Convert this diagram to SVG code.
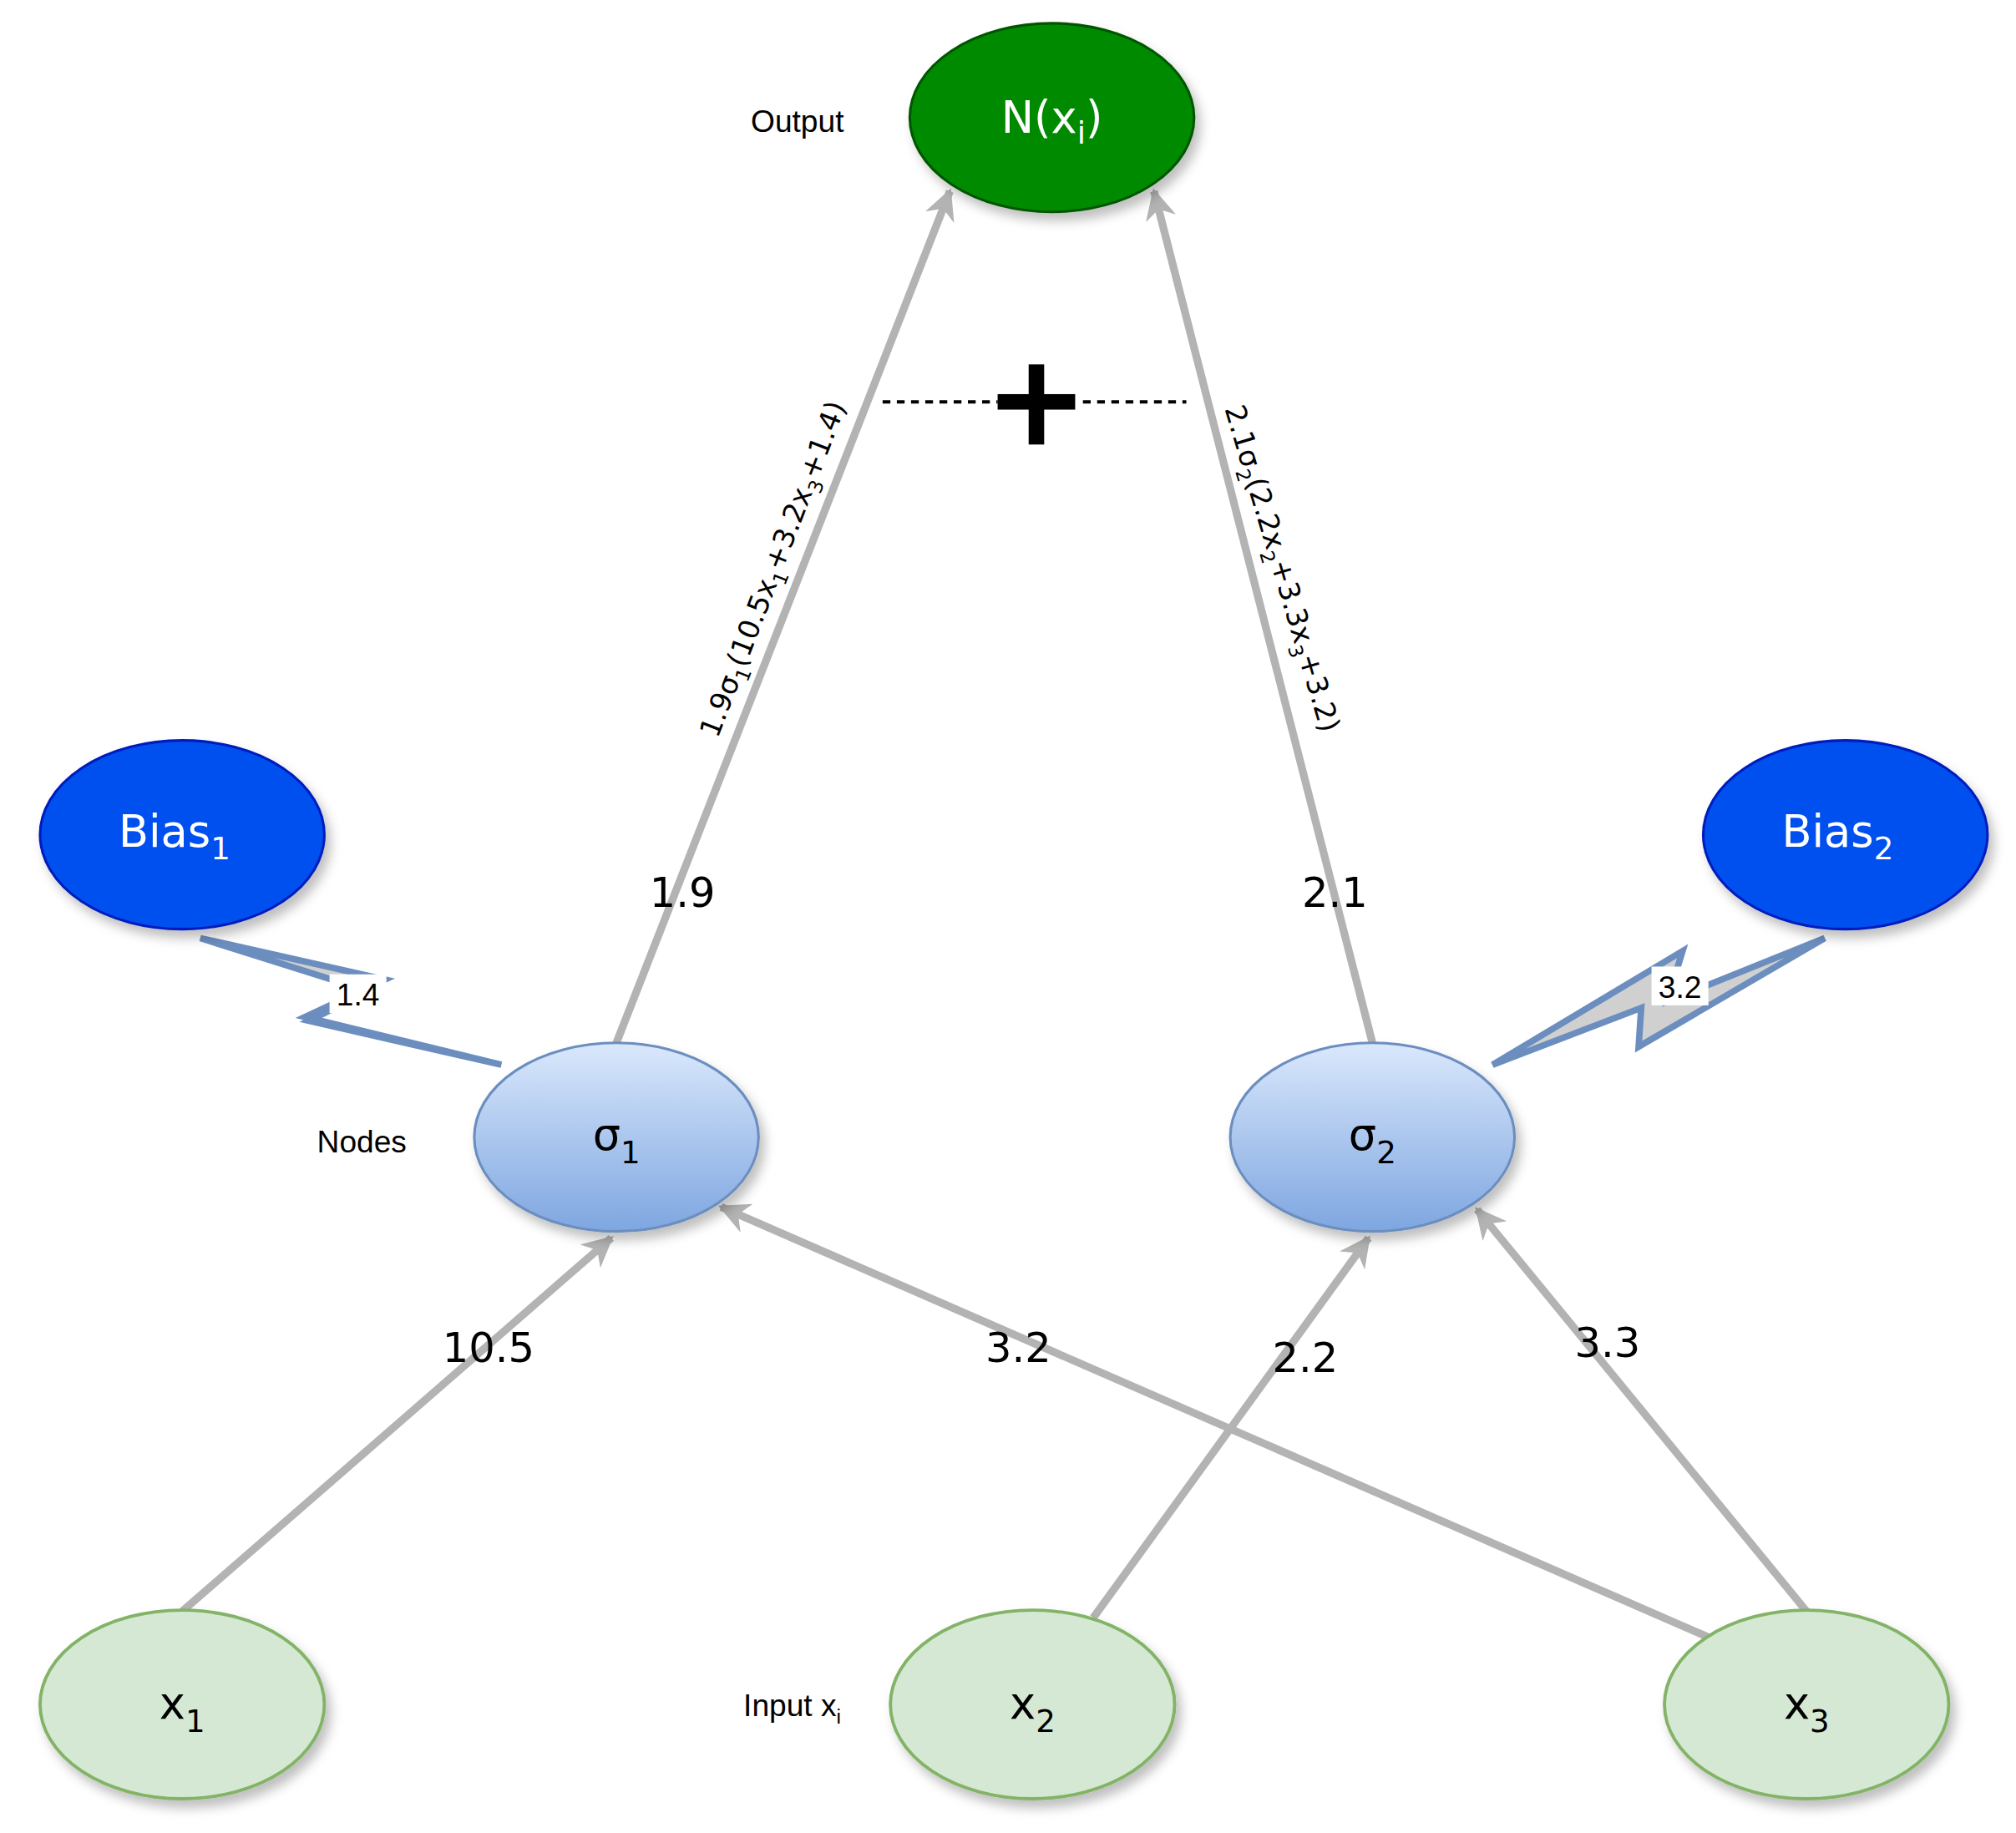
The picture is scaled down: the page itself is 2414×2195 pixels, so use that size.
<svg xmlns="http://www.w3.org/2000/svg" width="2414" height="2195" viewBox="0 0 2414 2195">
<style>
.lbl{font-family:"DejaVu Sans",Verdana,sans-serif;font-size:32px;fill:#000;text-anchor:middle}
.side{font-family:"Liberation Sans",Arial,sans-serif;font-size:24px;fill:#000;text-anchor:middle}
.nt{font-family:"DejaVu Sans",Verdana,sans-serif;font-size:34px;text-anchor:middle}
.edge{stroke:#b3b3b3;stroke-width:6;fill:none}
.rot{font-family:"DejaVu Sans",Verdana,sans-serif;font-size:22px;text-anchor:middle}
</style>
<defs>
<linearGradient id="g" x1="0" y1="0" x2="0" y2="1"><stop offset="0" stop-color="#dae8fc"/><stop offset="1" stop-color="#7ea6e0"/></linearGradient>
<filter id="sh" x="-20%" y="-20%" width="150%" height="150%"><feDropShadow dx="4" dy="6" stdDeviation="4" flood-color="#000" flood-opacity="0.25"/></filter>
<marker id="ar" viewBox="0 0 10 10" refX="9" refY="5" markerWidth="4" markerHeight="4" markerUnits="strokeWidth" orient="auto"><path d="M0,0 L10,5 L0,10 L3,5 z" fill="#b3b3b3"/></marker>
</defs>
<rect width="2414" height="2195" fill="#fff"/>
<g transform="scale(1.5474)">
<g id="connectors">
<line class="edge" x1="477" y1="807" x2="735" y2="148" marker-end="url(#ar)"/>
<line class="edge" x1="1062" y1="807" x2="893" y2="148" marker-end="url(#ar)"/>
<line class="edge" x1="141" y1="1247" x2="473" y2="958" marker-end="url(#ar)"/>
<line class="edge" x1="1322" y1="1267" x2="558" y2="934" marker-end="url(#ar)"/>
<line class="edge" x1="846" y1="1252" x2="1059" y2="958" marker-end="url(#ar)"/>
<line class="edge" x1="1398" y1="1247" x2="1143" y2="936" marker-end="url(#ar)"/>
<polygon points="155,726 298,758 236,787 388,824 239,790 285,767" fill="#d0d0d0" stroke="#6c8ebf" stroke-width="5" stroke-linejoin="miter"/>
<polygon points="1412,726 1268,810 1270,780 1155,824 1302,736 1290,775" fill="#d0d0d0" stroke="#6c8ebf" stroke-width="5"/>
<rect x="255" y="754" width="44" height="30" fill="#fff"/>
<text class="side" x="277" y="778">1.4</text>
<rect x="1278" y="748" width="44" height="30" fill="#fff"/>
<text class="side" x="1300" y="772">3.2</text>
<text class="lbl" x="528" y="702">1.9</text>
<text class="lbl" x="1033" y="702">2.1</text>
<text class="lbl" x="378" y="1054">10.5</text>
<text class="lbl" x="788" y="1054">3.2</text>
<text class="lbl" x="1010" y="1062">2.2</text>
<text class="lbl" x="1244" y="1050">3.3</text>
<text class="rot" transform="translate(605,443) rotate(-68.9)">1.9σ<tspan font-size="15" dy="6">1</tspan><tspan dy="-6">(10.5x</tspan><tspan font-size="15" dy="6">1</tspan><tspan dy="-6">+3.2x</tspan><tspan font-size="15" dy="6">3</tspan><tspan dy="-6">+1.4)</tspan></text>
<text class="rot" transform="translate(985,442) rotate(73.4)">2.1σ<tspan font-size="15" dy="6">2</tspan><tspan dy="-6">(2.2x</tspan><tspan font-size="15" dy="6">2</tspan><tspan dy="-6">+3.3x</tspan><tspan font-size="15" dy="6">3</tspan><tspan dy="-6">+3.2)</tspan></text>
<line x1="683" y1="311" x2="772" y2="311" stroke="#000" stroke-width="2.5" stroke-dasharray="6,5"/>
<line x1="838" y1="311" x2="918" y2="311" stroke="#000" stroke-width="2.5" stroke-dasharray="6,5"/>
<rect x="772" y="305" width="60" height="12" fill="#000"/>
<rect x="796" y="282" width="12" height="62" fill="#000"/>
</g>
<g id="output"><ellipse cx="814" cy="91" rx="110" ry="73" fill="#008a00" stroke="#005700" stroke-width="2" filter="url(#sh)"/><text class="nt" x="814" y="103" fill="#fff">N(x<tspan font-size="24" dy="8">i</tspan><tspan dy="-8">)</tspan></text></g>
<g id="bias1"><ellipse cx="141" cy="646" rx="110" ry="73" fill="#0050ef" stroke="#001dbc" stroke-width="2" filter="url(#sh)"/><text class="nt" x="135" y="655" fill="#fff">Bias<tspan font-size="24" dy="10">1</tspan></text></g>
<g id="bias2"><ellipse cx="1428" cy="646" rx="110" ry="73" fill="#0050ef" stroke="#001dbc" stroke-width="2" filter="url(#sh)"/><text class="nt" x="1422" y="655" fill="#fff">Bias<tspan font-size="24" dy="10">2</tspan></text></g>
<g id="sigma1"><ellipse cx="477" cy="880" rx="110" ry="73" fill="url(#g)" stroke="#6c8ebf" stroke-width="2" filter="url(#sh)"/><text class="nt" x="477" y="890" fill="#000">σ<tspan font-size="24" dy="10">1</tspan></text></g>
<g id="sigma2"><ellipse cx="1062" cy="880" rx="110" ry="73" fill="url(#g)" stroke="#6c8ebf" stroke-width="2" filter="url(#sh)"/><text class="nt" x="1062" y="890" fill="#000">σ<tspan font-size="24" dy="10">2</tspan></text></g>
<g id="x1"><ellipse cx="141" cy="1319" rx="110" ry="73" fill="#d5e8d4" stroke="#82b366" stroke-width="2.5" filter="url(#sh)"/><text class="nt" x="141" y="1330" fill="#000">x<tspan font-size="24" dy="10">1</tspan></text></g>
<g id="x2"><ellipse cx="799" cy="1319" rx="110" ry="73" fill="#d5e8d4" stroke="#82b366" stroke-width="2.5" filter="url(#sh)"/><text class="nt" x="799" y="1330" fill="#000">x<tspan font-size="24" dy="10">2</tspan></text></g>
<g id="x3"><ellipse cx="1398" cy="1319" rx="110" ry="73" fill="#d5e8d4" stroke="#82b366" stroke-width="2.5" filter="url(#sh)"/><text class="nt" x="1398" y="1330" fill="#000">x<tspan font-size="24" dy="10">3</tspan></text></g>
<g id="labels">
<text class="side" x="617" y="102">Output</text>
<text class="side" x="280" y="892">Nodes</text>
<text class="side" x="613" y="1328">Input x<tspan font-size="16" dy="6">i</tspan></text>
</g>
</g>
</svg>
